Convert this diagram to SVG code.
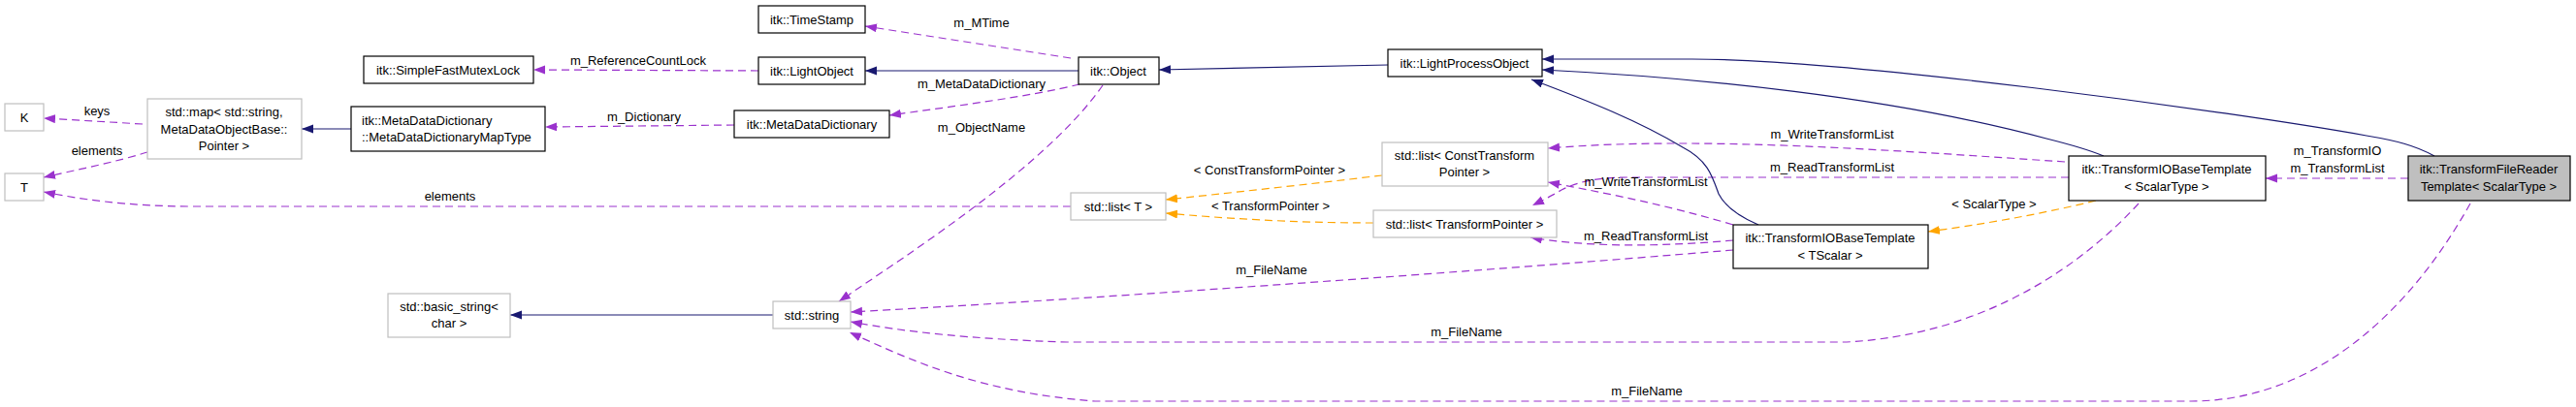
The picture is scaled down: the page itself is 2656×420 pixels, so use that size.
<svg xmlns="http://www.w3.org/2000/svg" width="2656" height="420" viewBox="0 0 2656 420">
<style>
text{font-family:"Liberation Sans",Arial,sans-serif;font-size:13px;fill:#000;text-anchor:middle}
.doc{fill:#fff;stroke:#000;stroke-width:1.2}
.und{fill:#fff;stroke:#bfbfbf;stroke-width:1.2}
.cur{fill:#bfbfbf;stroke:#000;stroke-width:1.2}
.inh{fill:none;stroke:#191970;stroke-width:1.2;marker-end:url(#aN)}
.use{fill:none;stroke:#9a32cd;stroke-width:1.2;stroke-dasharray:8,5;marker-end:url(#aP)}
.tpl{fill:none;stroke:#ffa500;stroke-width:1.2;stroke-dasharray:8,5;marker-end:url(#aO)}
</style>
<defs>
<marker id="aN" markerUnits="userSpaceOnUse" markerWidth="14" markerHeight="10" refX="12" refY="4.5" orient="auto"><path d="M0,0 L12,4.5 L0,9 z" fill="#191970"/></marker>
<marker id="aP" markerUnits="userSpaceOnUse" markerWidth="14" markerHeight="10" refX="12" refY="4.5" orient="auto"><path d="M0,0 L12,4.5 L0,9 z" fill="#9a32cd"/></marker>
<marker id="aO" markerUnits="userSpaceOnUse" markerWidth="14" markerHeight="10" refX="12" refY="4.5" orient="auto"><path d="M0,0 L12,4.5 L0,9 z" fill="#ffa500"/></marker>
</defs>
<rect width="2656" height="420" fill="#fff"/>
<g id="connectors">
<path class="use" d="M147,128 L45,122"/>
<text x="100" y="119">keys</text>
<path class="use" d="M152,157 C120,167 80,175 45,183"/>
<text x="100" y="160">elements</text>
<path class="use" d="M1104,213 L200,213 C130,213 80,205 45,198"/>
<text x="464" y="207">elements</text>
<path class="use" d="M782,73 L550,72"/>
<text x="658" y="67">m_ReferenceCountLock</text>
<path class="use" d="M757,129 L562,131"/>
<text x="664" y="125">m_Dictionary</text>
<path class="use" d="M1104,60 L892,27"/>
<text x="1012" y="28">m_MTime</text>
<path class="use" d="M1113,87 C1060,100 980,110 917,119"/>
<text x="1012" y="91">m_MetaDataDictionary</text>
<path class="use" d="M1137,88 C1080,170 940,260 865,311"/>
<text x="1012" y="136">m_ObjectName</text>
<path class="use" d="M1787,258 C1500,282 1100,310 877,322"/>
<text x="1311" y="283">m_FileName</text>
<path class="use" d="M2205,210 C2150,270 2050,345 1904,353 L1100,353 C1000,350 930,342 877,332"/>
<text x="1512" y="347">m_FileName</text>
<path class="use" d="M2547,210 C2480,330 2380,414 2259,414 L1129,414 C1010,405 940,372 876,343"/>
<text x="1698" y="408">m_FileName</text>
<path class="use" d="M2129,167 C1950,155 1750,140 1596,153"/>
<text x="1889" y="143">m_WriteTransformList</text>
<path class="use" d="M2133,183 L1680,183 C1640,183 1622,190 1610,196 C1600,202 1590,207 1580,212"/>
<text x="1889" y="177">m_ReadTransformList</text>
<path class="use" d="M1787,232 C1720,212 1660,200 1596,188"/>
<text x="1697" y="192">m_WriteTransformList</text>
<path class="use" d="M1787,248 C1720,254 1640,256 1578,245"/>
<text x="1697" y="248">m_ReadTransformList</text>
<path class="use" d="M2483,184 L2336,184"/>
<text x="2410" y="160">m_TransformIO</text>
<text x="2410" y="178">m_TransformList</text>
<path class="tpl" d="M1425,181 C1350,190 1260,200 1202,206"/>
<text x="1309" y="180">&lt; ConstTransformPointer &gt;</text>
<path class="tpl" d="M1416,230 C1330,230 1260,225 1202,220"/>
<text x="1310" y="217">&lt; TransformPointer &gt;</text>
<path class="tpl" d="M2161,207 C2100,222 2040,232 1988,239"/>
<text x="2056" y="215">&lt; ScalarType &gt;</text>
<path class="inh" d="M362,133 L311,133"/>
<path class="inh" d="M1112,73 L892,73"/>
<path class="inh" d="M797,325 L526,325"/>
<path class="inh" d="M1431,67 L1195,72"/>
<path class="inh" d="M2510,161 C2490,150 2470,145 2440,140 C2300,115 1900,60 1740,61 L1590,61"/>
<path class="inh" d="M2169,161 C2150,153 2130,148 2110,143 C1950,100 1750,80 1590,72"/>
<path class="inh" d="M1813,232 C1790,222 1778,212 1772,200 C1765,180 1760,165 1735,152 C1690,125 1640,105 1579,82"/>
</g>
<g id="K"><rect class="und" x="5" y="107" width="40" height="28"/><text x="25" y="126">K</text></g>
<g id="T"><rect class="und" x="5" y="179" width="40" height="28"/><text x="25" y="198">T</text></g>
<g id="stdmap"><rect class="und" x="152" y="102" width="159" height="62"/><text x="231" y="120">std::map&lt; std::string,</text><text x="231" y="138">MetaDataObjectBase::</text><text x="231" y="155">Pointer &gt;</text></g>
<g id="SimpleFastMutexLock"><rect class="doc" x="375" y="58" width="175" height="28"/><text x="462" y="77">itk::SimpleFastMutexLock</text></g>
<g id="MapType"><rect class="doc" x="362" y="110" width="200" height="46"/><text x="373" y="129" style="text-anchor:start">itk::MetaDataDictionary</text><text x="373" y="146" style="text-anchor:start">::MetaDataDictionaryMapType</text></g>
<g id="basic_string"><rect class="und" x="400" y="303" width="126" height="45"/><text x="463" y="321">std::basic_string&lt;</text><text x="463" y="338">char &gt;</text></g>
<g id="TimeStamp"><rect class="doc" x="782" y="6" width="110" height="28"/><text x="837" y="25">itk::TimeStamp</text></g>
<g id="LightObject"><rect class="doc" x="782" y="59" width="110" height="28"/><text x="837" y="78">itk::LightObject</text></g>
<g id="MetaDataDictionary"><rect class="doc" x="757" y="114" width="160" height="28"/><text x="837" y="133">itk::MetaDataDictionary</text></g>
<g id="Object"><rect class="doc" x="1112" y="59" width="83" height="28"/><text x="1153" y="78">itk::Object</text></g>
<g id="listT"><rect class="und" x="1104" y="199" width="98" height="28"/><text x="1153" y="218">std::list&lt; T &gt;</text></g>
<g id="stdstring"><rect class="und" x="797" y="311" width="80" height="28"/><text x="837" y="330">std::string</text></g>
<g id="LightProcessObject"><rect class="doc" x="1431" y="51" width="159" height="28"/><text x="1510" y="70">itk::LightProcessObject</text></g>
<g id="listConst"><rect class="und" x="1425" y="147" width="171" height="45"/><text x="1510" y="165">std::list&lt; ConstTransform</text><text x="1510" y="182">Pointer &gt;</text></g>
<g id="listTP"><rect class="und" x="1416" y="217" width="189" height="28"/><text x="1510" y="236">std::list&lt; TransformPointer &gt;</text></g>
<g id="IOBaseTScalar"><rect class="doc" x="1787" y="232" width="201" height="45"/><text x="1887" y="250">itk::TransformIOBaseTemplate</text><text x="1887" y="268">&lt; TScalar &gt;</text></g>
<g id="IOBaseScalarType"><rect class="doc" x="2133" y="161" width="203" height="46"/><text x="2234" y="179">itk::TransformIOBaseTemplate</text><text x="2234" y="197">&lt; ScalarType &gt;</text></g>
<g id="FileReader"><rect class="cur" x="2483" y="161" width="167" height="46"/><text x="2566" y="179">itk::TransformFileReader</text><text x="2566" y="197">Template&lt; ScalarType &gt;</text></g>
</svg>
